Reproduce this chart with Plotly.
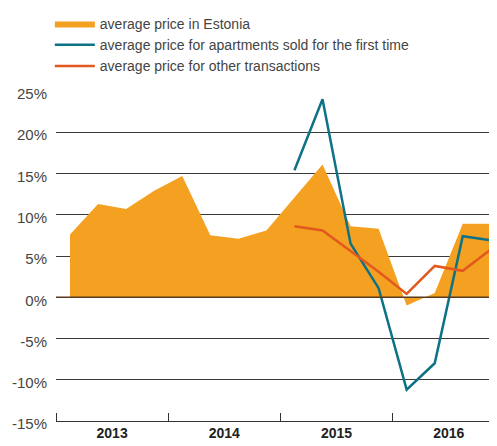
import plotly.graph_objects as go

quarters = list(range(16))  # 2013 Q1 .. 2016 Q4
years = ["2013", "2014", "2015", "2016"]

avg_estonia = [7.6, 11.3, 10.7, 12.9, 14.7, 7.5, 7.1, 8.1, 12.1, 16.1, 8.6, 8.3, -1.0, 0.5, 8.9, 8.9]
first_time = [None, None, None, None, None, None, None, None, 15.4, 24.0, 6.5, 1.1, -11.2, -8.0, 7.4, 6.9]
other_tx = [None, None, None, None, None, None, None, None, 8.6, 8.1, 5.6, 3.1, 0.4, 3.8, 3.2, 5.8]

y_ticks = [-15, -10, -5, 0, 5, 10, 15, 20, 25]
y_ticktext = [f"{v}%" for v in y_ticks]

fig = go.Figure()
fig.add_trace(go.Scatter(
    x=quarters, y=avg_estonia, name="average price in Estonia",
    mode="lines", fill="tozeroy", fillcolor="#F4A021",
    line=dict(width=0, color="#F4A021"),
))
fig.add_trace(go.Scatter(
    x=quarters, y=first_time, name="average price for apartments sold for the first time",
    mode="lines", line=dict(width=2.5, color="#0D7285"),
))
fig.add_trace(go.Scatter(
    x=quarters, y=other_tx, name="average price for other transactions",
    mode="lines", line=dict(width=2.5, color="#E2581E"),
))

fig.add_shape(type="line", xref="paper", yref="y", x0=0, x1=1, y0=0, y1=0,
              line=dict(color="#5A3A1E", width=1.5), layer="above")

# page body has an 8px margin, so the figure is sized/offset to compensate
fig.update_layout(
    width=489, height=438,
    margin=dict(l=48, r=0, t=82, b=25, autoexpand=False),
    plot_bgcolor="white", paper_bgcolor="white",
    font=dict(family="Liberation Sans, Arial, sans-serif", color="#444444"),
    showlegend=True,
    legend=dict(
        x=-0.014, xanchor="left", y=1.0, yanchor="top", yref="container",
        font=dict(size=14, color="#444444"),
        bgcolor="rgba(0,0,0,0)", tracegroupgap=0, itemwidth=40,
    ),
    xaxis=dict(
        range=[-0.5, 15.22],
        tickvals=[1.5, 5.5, 9.5, 13.5],
        ticktext=[f"<b>{y}</b>" for y in years],
        tickfont=dict(size=14, color="#222222"),
        ticks="", showgrid=False, zeroline=False,
        showline=True, linecolor="#333333", linewidth=1,
        minor=dict(tickvals=[-0.5, 3.5, 7.5, 11.5], ticks="inside", ticklen=8,
                   tickcolor="#333333", tickwidth=1, showgrid=False),
        ticklabelstandoff=-1,
        automargin=False,
        fixedrange=True,
    ),
    yaxis=dict(
        range=[-15, 25.12],
        tickvals=y_ticks, ticktext=y_ticktext,
        tickfont=dict(size=15, color="#444444"),
        showgrid=True, gridcolor="#3A3A3A", gridwidth=1,
        zeroline=False, showline=False, ticks="",
        ticklabelstandoff=8, ticklabelshift=3,
        automargin=False,
        fixedrange=True,
    ),
)

fig.write_html("out.html")
